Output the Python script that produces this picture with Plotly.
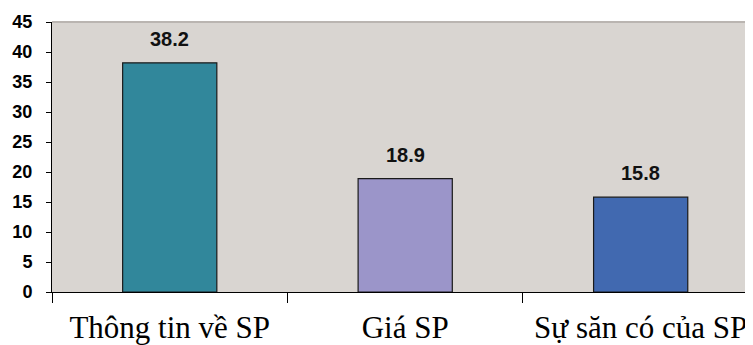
import plotly.graph_objects as go

categories = ["Thông tin về SP", "Giá SP", "Sự săn có của SP"]
values = [38.2, 18.9, 15.8]
bar_colors = ["#31879B", "#9B95C9", "#4169B0"]
y_ticks = [0, 5, 10, 15, 20, 25, 30, 35, 40, 45]

fig = go.Figure()
fig.add_trace(go.Bar(
    x=categories, y=values,
    marker=dict(color=bar_colors, line=dict(color="#1a1a1a", width=1.2)),
    width=0.4,
    hoverinfo="skip",
))

for c, v in zip(categories, values):
    fig.add_annotation(x=c, y=v, text=f"{v:.1f}", showarrow=False,
                       yshift=24, yanchor="middle",
                       font=dict(family="Arial, Liberation Sans", size=20, color="#111", weight="bold"))

# light plot-area top border
fig.add_shape(type="line", xref="paper", yref="paper", x0=0, x1=1, y0=1, y1=1,
              line=dict(color="#BAB5B1", width=2), layer="above")

fig.update_layout(
    width=753, height=345,
    margin=dict(l=44, r=0, t=14, b=61, autoexpand=False),
    paper_bgcolor="white",
    plot_bgcolor="#D9D5D1",
    showlegend=False,
)
fig.update_xaxes(
    range=[-0.5, 2.511], automargin=False,
    showline=True, linecolor="black", linewidth=1,
    ticks="outside", ticklen=10, tickcolor="black", tickson="boundaries",
    ticklabelstandoff=8,
    tickfont=dict(family="Times New Roman, Liberation Serif", size=31, color="black"),
    showgrid=False,
)
fig.update_yaxes(
    range=[0, 45], tickvals=y_ticks, automargin=False,
    showline=True, linecolor="black", linewidth=1,
    ticks="outside", ticklen=5, tickcolor="black", ticklabelstandoff=10,
    tickfont=dict(family="Arial, Liberation Sans", size=18, color="black", weight="bold"),
    showgrid=False, zeroline=False,
)
fig.write_html("out.html")
